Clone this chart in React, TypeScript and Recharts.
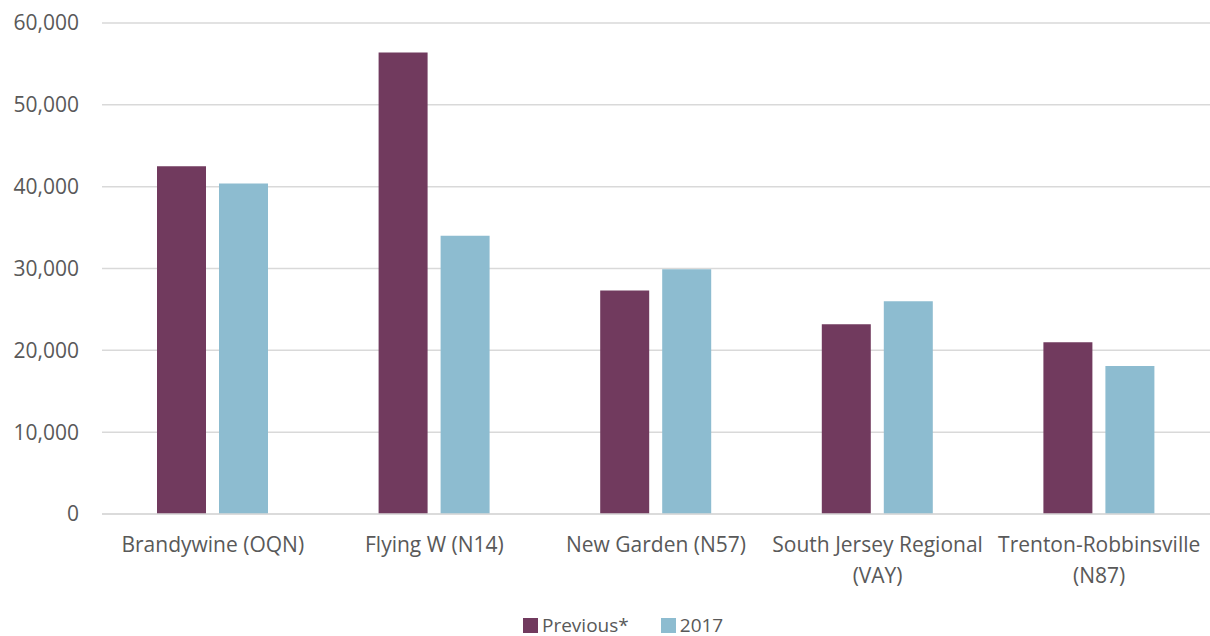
import { BarChart, Bar, XAxis, YAxis, CartesianGrid, Legend } from 'recharts';

// airport names on the x axis
const airports = [
    'Brandywine (OQN)',
    'Flying W (N14)',
    'New Garden (N57)',
    'South Jersey Regional (VAY)',
    'Trenton-Robbinsville (N87)',
];

// operations counts
const previousOps = [42500, 56400, 27300, 23200, 21000];
const ops2017 = [40400, 34000, 29900, 26000, 18100];

const yTicks = [0, 10000, 20000, 30000, 40000, 50000, 60000];

const series = [
    { key: 'previous', name: 'Previous*', color: '#713A5E' },
    { key: 'y2017', name: '2017', color: '#8DBCD0' },
];

const TEXT = '#595959';
const FONT = '"Open Sans", sans-serif';
const FONT_SIZE = 21;

const data = airports.map((name, i) => ({
    name,
    previous: previousOps[i],
    y2017: ops2017[i],
}));

let ctx: CanvasRenderingContext2D | null = null;
function measure(s: string) {
    if (!ctx) ctx = document.createElement('canvas').getContext('2d');
    if (!ctx) return s.length * FONT_SIZE * 0.55;
    ctx.font = `${FONT_SIZE}px ${FONT}`;
    return ctx.measureText(s).width;
}

// greedy word wrap to the category width
function wrap(label: string, maxWidth: number) {
    const lines: string[] = [];
    let cur = '';
    for (const w of label.split(' ')) {
        const next = cur ? `${cur} ${w}` : w;
        if (cur && measure(next) > maxWidth) {
            lines.push(cur);
            cur = w;
        } else {
            cur = next;
        }
    }
    if (cur) lines.push(cur);
    return lines;
}

const CategoryTick = ({ x, y, payload }: any) => {
    const lines = wrap(payload.value, 218);
    return (
        <text x={x} y={y + 30} textAnchor="middle" fontSize={FONT_SIZE} fill={TEXT} fontFamily={FONT}>
            {lines.map((l, i) => (
                <tspan key={i} x={x} dy={i === 0 ? 0 : 31}>
                    {l}
                </tspan>
            ))}
        </text>
    );
};

const LegendContent = () => (
    <div
        style={{
            display: 'flex',
            justifyContent: 'flex-start',
            paddingLeft: 523,
            paddingTop: 3,
            height: 21,
            lineHeight: '21px',
            fontFamily: FONT,
            fontSize: 19,
            color: TEXT,
        }}
    >
        {series.map((s, i) => (
            <div key={s.key} style={{ display: 'flex', alignItems: 'center', marginRight: i === 0 ? 32 : 0 }}>
                <span style={{ width: 15, height: 15, background: s.color, display: 'inline-block', marginRight: 4 }} />
                <span>{s.name}</span>
            </div>
        ))}
    </div>
);

export default function App() {
    return (
        <div style={{ position: 'absolute', left: 0, top: 0, width: 1210, height: 636, background: '#fff' }}>
            <BarChart
                width={1210}
                height={636}
                data={data}
                margin={{ top: 23, right: 0, bottom: 0, left: 0 }}
                barCategoryGap={55}
                barGap={13}
            >
                <CartesianGrid vertical={false} stroke="#d9d9d9" strokeWidth={1.5} />
                <XAxis
                    dataKey="name"
                    tick={<CategoryTick />}
                    tickLine={false}
                    axisLine={{ stroke: '#d9d9d9', strokeWidth: 1.5 }}
                    height={98}
                    interval={0}
                />
                <YAxis
                    domain={[0, 60000]}
                    ticks={yTicks}
                    width={102}
                    axisLine={false}
                    tickLine={false}
                    tickSize={0}
                    tickMargin={23}
                    tickFormatter={(v: number) => v.toLocaleString('en-US')}
                    tick={{ fontSize: FONT_SIZE, fill: TEXT, fontFamily: FONT }}
                />
                <Legend verticalAlign="bottom" height={24} content={<LegendContent />} />
                {series.map(s => (
                    <Bar key={s.key} dataKey={s.key} name={s.name} fill={s.color} isAnimationActive={false} />
                ))}
            </BarChart>
        </div>
    );
}
